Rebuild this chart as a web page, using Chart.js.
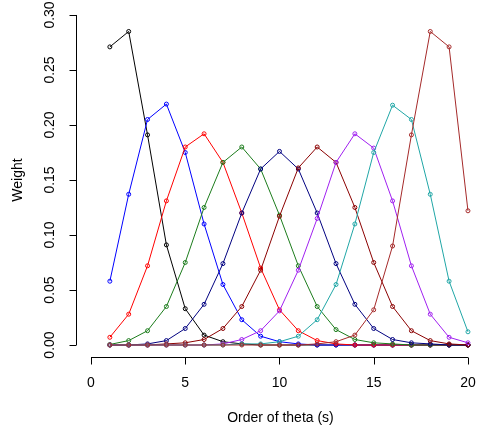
<!DOCTYPE html>
<html>
<head>
<meta charset="utf-8">
<script src="https://cdn.jsdelivr.net/npm/chart.js@4/dist/chart.umd.min.js"></script>
<style>
  html, body { margin: 0; padding: 0; background: #fff; overflow: hidden; }
  canvas { display: block; }
</style>
</head>
<body>
<canvas id="chart" width="477" height="433"></canvas>
<script>
// order of theta, 1..20
const orders = [1,2,3,4,5,6,7,8,9,10,11,12,13,14,15,16,17,18,19,20];

// weights, one curve per peak
const w02 = [0.271,0.285,0.191,0.091,0.033,0.009,0.003,0.001,0,0,0,0,0,0,0,0,0,0,0,0];
const w04 = [0.058,0.137,0.205,0.219,0.175,0.110,0.055,0.023,0.008,0.003,0.001,0,0,0,0,0,0,0,0,0];
const w06 = [0.007,0.028,0.072,0.131,0.180,0.192,0.166,0.120,0.070,0.032,0.013,0.004,0.001,0,0,0,0,0,0,0];
const w08 = [0.0005,0.004,0.013,0.035,0.075,0.125,0.166,0.180,0.160,0.118,0.072,0.035,0.014,0.005,0.002,0.001,0,0,0,0];
const w10 = [0,0,0.001,0.004,0.015,0.037,0.074,0.120,0.160,0.176,0.160,0.120,0.074,0.037,0.015,0.005,0.002,0.001,0,0];
const w12 = [0,0,0,0.001,0.002,0.005,0.015,0.035,0.068,0.117,0.161,0.180,0.166,0.125,0.075,0.035,0.013,0.004,0.001,0];
const w14 = [0,0,0,0,0,0,0.001,0.005,0.013,0.031,0.068,0.115,0.166,0.192,0.179,0.131,0.072,0.028,0.007,0.002];
const w16 = [0,0,0,0,0,0,0,0.001,0.001,0.003,0.008,0.023,0.055,0.110,0.175,0.218,0.205,0.137,0.058,0.012];
const w18 = [0,0,0,0,0,0,0,0,0,0,0,0.001,0.003,0.009,0.032,0.090,0.191,0.285,0.271,0.122];

const series = [w02, w04, w06, w08, w10, w12, w14, w16, w18];
const colors = ['#000000','#0000FF','#FF0000','#1C7C1C','#000080','#8B0000','#A020F0','#20A6A6','#A52A2A'];

const xTicks = [0, 5, 10, 15, 20];
const yTicks = [0.00, 0.05, 0.10, 0.15, 0.20, 0.25, 0.30];

const FONT = '"Liberation Sans", Arial, Helvetica, sans-serif';

/** R-style axes drawn from the chart's own scales */
const rAxes = {
  id: 'rAxes',
  afterDraw(chart) {
    const ctx = chart.ctx;
    const xs = chart.scales.x, ys = chart.scales.y;
    const area = chart.chartArea;
    ctx.save();
    ctx.strokeStyle = '#000';
    ctx.fillStyle = '#000';
    ctx.lineWidth = 1;

    // x axis
    const xAxisY = area.bottom + 0.5;
    const x0 = xs.getPixelForValue(xTicks[0]);
    const x1 = xs.getPixelForValue(xTicks[xTicks.length - 1]);
    ctx.beginPath();
    ctx.moveTo(x0, xAxisY); ctx.lineTo(x1, xAxisY);
    xTicks.forEach(v => {
      const px = Math.round(xs.getPixelForValue(v)) + 0.5;
      ctx.moveTo(px, xAxisY); ctx.lineTo(px, xAxisY + 7);
    });
    ctx.stroke();
    ctx.font = '14px ' + FONT;
    ctx.textAlign = 'center';
    ctx.textBaseline = 'middle';
    xTicks.forEach(v => ctx.fillText(String(v), xs.getPixelForValue(v), area.bottom + 26));
    ctx.fillText('Order of theta (s)', (x0 + x1) / 2 + 1, area.bottom + 61);

    // y axis
    const yAxisX = area.left + 0.5;
    const yb = ys.getPixelForValue(yTicks[0]);
    const yt = ys.getPixelForValue(yTicks[yTicks.length - 1]);
    ctx.beginPath();
    ctx.moveTo(yAxisX, yb); ctx.lineTo(yAxisX, yt);
    yTicks.forEach(v => {
      const py = Math.round(ys.getPixelForValue(v)) + 0.5;
      ctx.moveTo(yAxisX, py); ctx.lineTo(yAxisX - 7, py);
    });
    ctx.stroke();
    yTicks.forEach(v => {
      ctx.save();
      ctx.translate(area.left - 26, ys.getPixelForValue(v));
      ctx.rotate(-Math.PI / 2);
      ctx.fillText(v.toFixed(2), 0, 0);
      ctx.restore();
    });
    ctx.save();
    ctx.translate(18, (yb + yt) / 2);
    ctx.rotate(-Math.PI / 2);
    ctx.fillText('Weight', 0, 0);
    ctx.restore();

    ctx.restore();
  }
};

const datasets = series.map((vals, i) => ({
  label: 'peak ' + orders[2 * i + 1],
  data: vals.map((v, k) => ({ x: orders[k], y: v })),
  borderColor: colors[i],
  backgroundColor: 'rgba(0,0,0,0)',
  borderWidth: 1,
  pointRadius: 2,
  pointBorderWidth: 1,
  pointBorderColor: colors[i],
  pointBackgroundColor: 'rgba(0,0,0,0)',
  tension: 0,
  clip: 8,
  order: series.length - i
}));

new Chart(document.getElementById('chart'), {
  type: 'line',
  data: { datasets },
  plugins: [rAxes],
  options: {
    responsive: false,
    animation: false,
    layout: { autoPadding: false, padding: { left: 76, right: 0, top: 2, bottom: 76 } },
    plugins: { legend: { display: false }, tooltip: { enabled: false } },
    scales: {
      x: { type: 'linear', display: false, min: -0.796, max: 20.48 },
      y: { type: 'linear', display: false, min: -0.0109, max: 0.3118 }
    }
  }
});
</script>
</body>
</html>
